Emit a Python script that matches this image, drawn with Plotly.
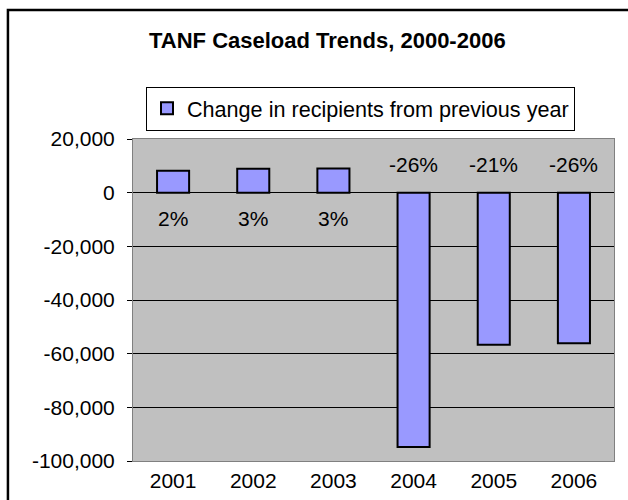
import plotly.graph_objects as go

# TANF caseload: year-over-year change in recipients
years = ["2001", "2002", "2003", "2004", "2005", "2006"]
change = [8200, 8900, 9000, -94800, -56700, -56100]
pct_labels = ["2%", "3%", "3%", "-26%", "-21%", "-26%"]

ytick_vals = [20000, 0, -20000, -40000, -60000, -80000, -100000]
ytick_text = ["20,000", "0", "-20,000", "-40,000", "-60,000", "-80,000", "-100,000"]

FONT = "Arial, 'Liberation Sans', sans-serif"

fig = go.Figure()
fig.add_trace(go.Bar(
    x=years,
    y=change,
    name="Change in recipients from previous year",
    width=0.4,
    marker=dict(color="#9999FF", line=dict(color="#000000", width=2)),
))

# percentage labels sit on the opposite side of the zero line from each bar
annotations = []
for i, (val, lab) in enumerate(zip(change, pct_labels)):
    annotations.append(dict(
        x=i, y=0, xref="x", yref="y", text=lab, showarrow=False,
        yanchor="middle", yshift=-26 if val > 0 else 28,
        font=dict(family=FONT, size=21, color="#000000"),
    ))

fig.update_layout(
    width=628, height=500,
    margin=dict(l=133, r=14, t=139, b=39),
    paper_bgcolor="#FFFFFF",
    plot_bgcolor="#C0C0C0",
    font=dict(family=FONT, size=21, color="#000000"),
    title=dict(
        text="TANF Caseload Trends, 2000-2006",
        xref="paper", x=0.404, xanchor="center",
        yref="container", y=0.92, yanchor="middle",
        font=dict(family=FONT, size=22, weight="bold", color="#000000"),
    ),
    showlegend=True,
    legend=dict(
        x=0.027, y=1.1624, xanchor="left", yanchor="top",
        bgcolor="#FFFFFF", bordercolor="#000000", borderwidth=1,
        font=dict(family=FONT, size=21.6, color="#000000"),
    ),
    annotations=annotations,
    shapes=[
        # chart-area frame
        dict(type="rect", xref="paper", yref="paper",
             x0=-0.26, x1=1.4, y0=-0.4, y1=1.4006,
             line=dict(color="#000000", width=2.5), layer="below"),
    ],
    xaxis=dict(
        type="category",
        range=[-0.5, 5.5],
        automargin=False,
        showgrid=False,
        showline=True, linecolor="#808080", linewidth=1, mirror=True,
        ticks="", ticklabelstandoff=1,
        tickfont=dict(family=FONT, size=21),
    ),
    yaxis=dict(
        range=[-100000, 20000],
        automargin=False,
        tickvals=ytick_vals, ticktext=ytick_text,
        showgrid=True, gridcolor="#000000", gridwidth=1,
        zeroline=True, zerolinecolor="#000000", zerolinewidth=1,
        showline=True, linecolor="#808080", linewidth=1, mirror=True,
        ticks="outside", ticklen=5, tickcolor="#000000",
        ticklabelstandoff=8,
        tickfont=dict(family=FONT, size=21),
    ),
)

fig.write_html("out.html")
